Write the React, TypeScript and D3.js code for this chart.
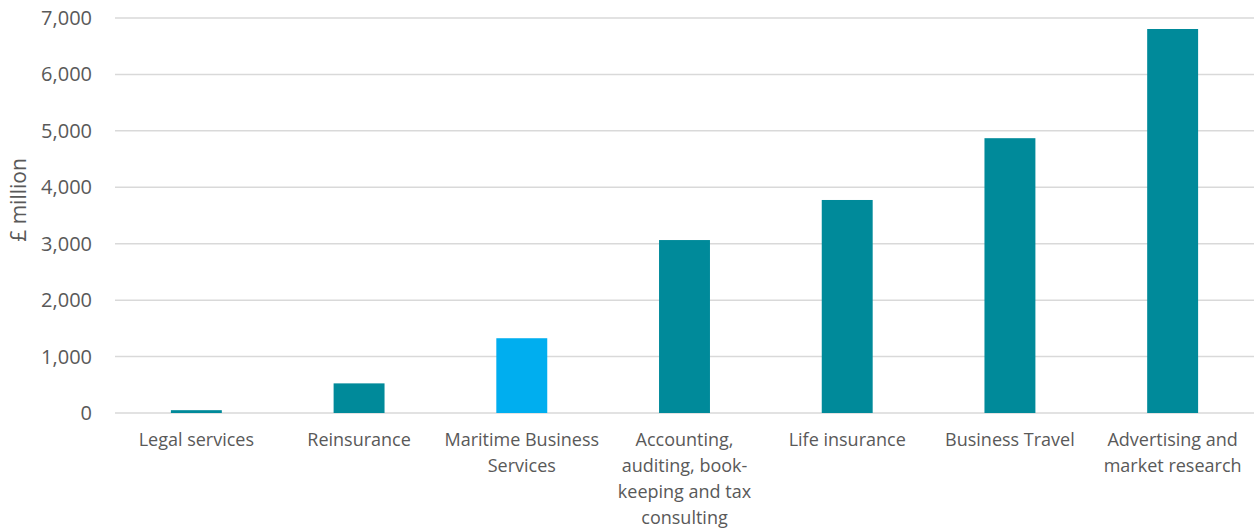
import React from "react";
import * as d3 from "d3";

const categories: string[][] = [
  ["Legal services"],
  ["Reinsurance"],
  ["Maritime Business", "Services"],
  ["Accounting,", "auditing, book-", "keeping and tax", "consulting"],
  ["Life insurance"],
  ["Business Travel"],
  ["Advertising and", "market research"],
];
const values: number[] = [50, 525, 1325, 3065, 3775, 4870, 6805];
const highlighted: boolean[] = [false, false, true, false, false, false, false];
const yTicks: number[] = [0, 1000, 2000, 3000, 4000, 5000, 6000, 7000];
const yLabel = "£ million";

const W = 1255;
const H = 532;
const M = { left: 115, right: 1, top: 18, bottom: 119 };

export default function App() {
  const x = d3
    .scaleBand<number>()
    .domain(d3.range(categories.length))
    .range([M.left, W - M.right])
    .paddingInner(0.687)
    .paddingOuter(0.3435);
  const y = d3.scaleLinear().domain([0, 7000]).range([H - M.bottom, M.top]);
  const fmt = d3.format(",");
  const font = "'Open Sans', sans-serif";

  return (
    <svg width={W} height={H} style={{ position: "absolute", left: 0, top: 0, background: "#fff" }}>
      {yTicks.map((t) => (
        <g key={t}>
          <line x1={M.left} x2={W - M.right} y1={y(t)} y2={y(t)} stroke="#d9d9d9" strokeWidth={1.5} />
          <text x={92} y={y(t)} dy="0.35em" textAnchor="end" fontFamily={font} fontSize={20} fill="#595959">
            {fmt(t)}
          </text>
        </g>
      ))}
      {values.map((v, i) => (
        <rect
          key={i}
          x={x(i)}
          width={x.bandwidth()}
          y={y(v)}
          height={y(0) - y(v)}
          fill={highlighted[i] ? "#00AEEF" : "#008A9A"}
        />
      ))}
      {categories.map((lines, i) => (
        <text
          key={i}
          x={(x(i) as number) + x.bandwidth() / 2}
          y={446}
          textAnchor="middle"
          fontFamily={font}
          fontSize={18}
          fill="#595959"
        >
          {lines.map((l, j) => (
            <tspan key={j} x={(x(i) as number) + x.bandwidth() / 2} dy={j === 0 ? 0 : 26}>
              {l}
            </tspan>
          ))}
        </text>
      ))}
      <text
        transform={`translate(26,200) rotate(-90)`}
        textAnchor="middle"
        fontFamily={font}
        fontSize={21}
        fill="#595959"
      >
        {yLabel}
      </text>
    </svg>
  );
}
